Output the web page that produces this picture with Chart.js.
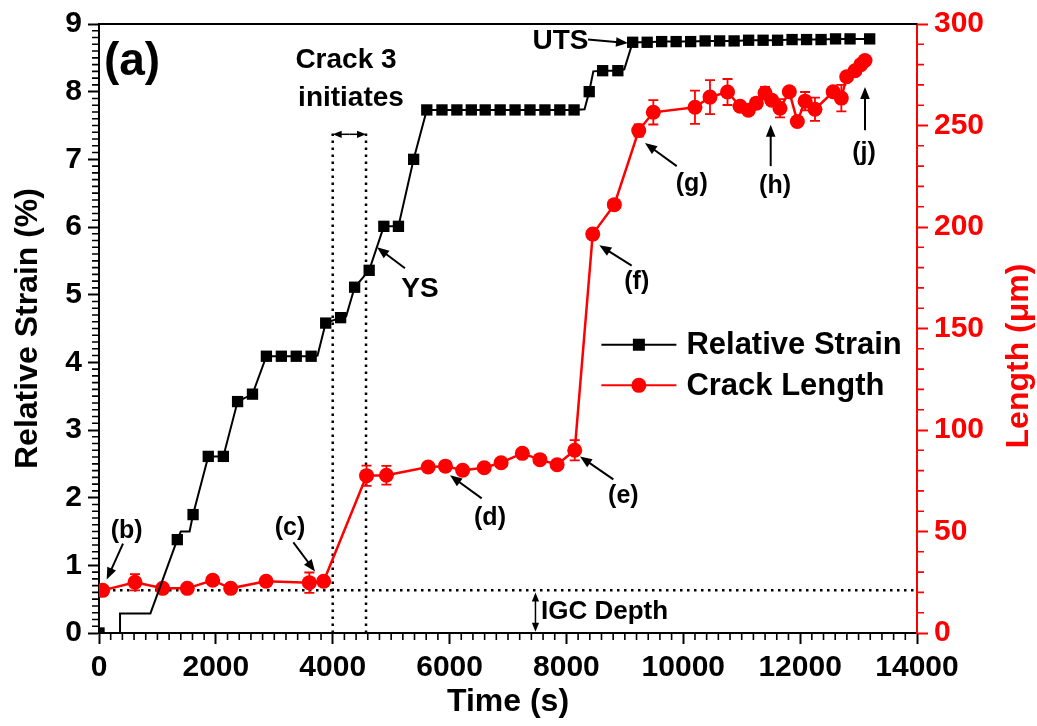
<!DOCTYPE html>
<html>
<head>
<meta charset="utf-8">
<script src="https://cdn.jsdelivr.net/npm/chart.js@4.4.1/dist/chart.umd.min.js"></script>
<style>
  html, body { margin: 0; padding: 0; background: #fff; }
  #wrap { width: 1037px; height: 726px; position: relative; }
</style>
</head>
<body>
<div id="wrap"><canvas id="grafico"></canvas></div>
<script>
// Relative strain (black squares); marker 1 = square drawn, 0 = line vertex only
const strainTime = [0, 360, 360, 880, 1340, 1400, 1550, 1610, 1870, 2128, 2372, 2627, 2865, 3121, 3376, 3631, 3740, 3880, 4135, 4230, 4375, 4624, 4875, 5125, 5385, 5610, 5870, 6125, 6372, 6610, 6866, 7121, 7376, 7632, 7887, 8131, 8310, 8390, 8460, 8620, 8880, 8990, 9134, 9382, 9630, 9878, 10126, 10374, 10622, 10870, 11118, 11366, 11614, 11862, 12110, 12358, 12606, 12854, 13190];
const strainValue = [0, 0, 0.29, 0.29, 1.38, 1.5, 1.5, 1.75, 2.61, 2.61, 3.42, 3.53, 4.09, 4.09, 4.09, 4.09, 4.1, 4.58, 4.66, 4.68, 5.11, 5.36, 6.01, 6.01, 7.0, 7.73, 7.73, 7.73, 7.73, 7.73, 7.73, 7.73, 7.73, 7.73, 7.73, 7.73, 7.74, 8.0, 8.3, 8.31, 8.31, 8.33, 8.73, 8.73, 8.74, 8.74, 8.74, 8.75, 8.75, 8.75, 8.76, 8.76, 8.76, 8.77, 8.77, 8.77, 8.78, 8.78, 8.78];
const strainMarker = [1, 0, 0, 0, 1, 0, 0, 1, 1, 1, 1, 1, 1, 1, 1, 1, 0, 1, 1, 0, 1, 1, 1, 1, 1, 1, 1, 1, 1, 1, 1, 1, 1, 1, 1, 1, 0, 1, 0, 1, 1, 0, 1, 1, 1, 1, 1, 1, 1, 1, 1, 1, 1, 1, 1, 1, 1, 1, 1];

// Crack length (red circles) with error bars (± µm)
const crackTime = [63, 616, 1090, 1511, 1946, 2254, 2860, 3600, 3845, 4579, 4919, 5634, 5929, 6224, 6593, 6882, 7245, 7546, 7841, 8142, 8450, 8820, 9237, 9487, 10200, 10457, 10757, 10971, 11114, 11250, 11399, 11513, 11655, 11815, 11952, 12085, 12254, 12565, 12705, 12797, 12939, 13040, 13110];
const crackLength = [21, 25, 22, 22, 26, 22, 25.5, 24.8, 25.5, 77.5, 77.7, 81.8, 82.2, 80.2, 81.4, 83.9, 88.5, 85.4, 82.9, 90, 196.5, 211, 247.5, 256.5, 259, 264, 266.5, 259.5, 257.5, 261, 266, 262.5, 258.5, 266.6, 252, 262, 258, 266.6, 263.5, 274, 277, 280, 282];
const crackError = [0, 4, 0, 1.5, 1.5, 1.5, 1, 5, 2, 5, 4.6, 1, 1, 1.5, 1, 1, 1, 1, 1, 5, 1, 1, 3, 6, 8.2, 8.4, 6.4, 1, 1.5, 2.5, 3, 2, 4.5, 1, 1, 4.5, 5.7, 2, 6.5, 2, 1.5, 1, 1];

const xTickStep = 2000;
const strainTickStep = 1;
const lengthTickStep = 50;
const igcDepth = 21;          // µm, dotted horizontal line
const crackWindow = [4000, 4570];

const FONT = '"Liberation Sans", Arial, sans-serif';

const strainPts = strainTime.map((t, i) => ({ x: t, y: strainValue[i] }));
const crackPts = crackTime.map((t, i) => ({ x: t, y: crackLength[i] }));

function flecha(ctx, x1, y1, x2, y2, head) {
  head = head || 12;
  const ang = Math.atan2(y2 - y1, x2 - x1);
  ctx.beginPath();
  ctx.moveTo(x1, y1);
  ctx.lineTo(x2 - Math.cos(ang) * head * 0.8, y2 - Math.sin(ang) * head * 0.8);
  ctx.stroke();
  ctx.beginPath();
  ctx.moveTo(x2, y2);
  ctx.lineTo(x2 - head * Math.cos(ang) + head * 0.4 * Math.sin(ang), y2 - head * Math.sin(ang) - head * 0.4 * Math.cos(ang));
  ctx.lineTo(x2 - head * Math.cos(ang) - head * 0.4 * Math.sin(ang), y2 - head * Math.sin(ang) + head * 0.4 * Math.cos(ang));
  ctx.closePath();
  ctx.fill();
}

function flechaDoble(ctx, x1, y1, x2, y2, head) {
  const mx = (x1 + x2) / 2, my = (y1 + y2) / 2;
  flecha(ctx, mx, my, x1, y1, head);
  flecha(ctx, mx, my, x2, y2, head);
}

// Error bars, dotted guide lines (under the datasets)
const fondo = {
  id: 'fondo',
  beforeDatasetsDraw(chart) {
    const { ctx, scales } = chart;
    const X = scales.x, Y = scales.y, L = scales.y1;
    ctx.save();
    // dotted IGC depth line
    ctx.strokeStyle = '#000';
    ctx.lineWidth = 2.5;
    ctx.setLineDash([2.5, 4.5]);
    ctx.beginPath();
    ctx.moveTo(X.getPixelForValue(0), L.getPixelForValue(igcDepth));
    ctx.lineTo(X.getPixelForValue(13950), L.getPixelForValue(igcDepth));
    ctx.stroke();
    // dotted verticals for crack initiation window
    crackWindow.forEach(t => {
      ctx.beginPath();
      ctx.moveTo(X.getPixelForValue(t), Y.getPixelForValue(0));
      ctx.lineTo(X.getPixelForValue(t), Y.getPixelForValue(7.42));
      ctx.stroke();
    });
    ctx.setLineDash([]);
    // error bars
    ctx.strokeStyle = '#ff0000';
    ctx.lineWidth = 1.8;
    crackTime.forEach((t, i) => {
      const e = crackError[i];
      if (!e) return;
      const px = X.getPixelForValue(t);
      const top = L.getPixelForValue(crackLength[i] + e);
      const bot = L.getPixelForValue(crackLength[i] - e);
      ctx.beginPath();
      ctx.moveTo(px, top); ctx.lineTo(px, bot);
      ctx.moveTo(px - 5, top); ctx.lineTo(px + 5, top);
      ctx.moveTo(px - 5, bot); ctx.lineTo(px + 5, bot);
      ctx.stroke();
    });
    ctx.restore();
  }
};

// Annotations, minor ticks, frame, legend, right title
const decor = {
  id: 'decor',
  afterDraw(chart) {
    const { ctx, scales, chartArea: a } = chart;
    const X = scales.x, Y = scales.y, L = scales.y1;
    const px = t => X.getPixelForValue(t);
    const py = s => Y.getPixelForValue(s);
    ctx.save();

    // top frame
    ctx.strokeStyle = '#000';
    ctx.lineWidth = 2;
    ctx.beginPath();
    ctx.moveTo(a.left, a.top); ctx.lineTo(a.right, a.top);
    ctx.stroke();

    // minor ticks
    ctx.lineWidth = 1.6;
    ctx.beginPath();
    for (let v = 0; v <= 14000; v += 200) {
      if (v % 2000 === 0) continue;
      ctx.moveTo(px(v), a.bottom); ctx.lineTo(px(v), a.bottom + 7);
    }
    for (let k = 0; k <= 90; k++) {
      if (k % 10 === 0) continue;
      const y = py(k / 10);
      ctx.moveTo(a.left, y); ctx.lineTo(a.left - 7, y);
    }
    ctx.stroke();
    ctx.strokeStyle = '#ff0000';
    ctx.beginPath();
    for (let v = 0; v <= 300; v += 10) {
      if (v % 50 === 0) continue;
      const y = L.getPixelForValue(v);
      ctx.moveTo(a.right, y); ctx.lineTo(a.right + 7, y);
    }
    ctx.stroke();

    // texts
    ctx.fillStyle = '#000';
    ctx.strokeStyle = '#000';
    ctx.textAlign = 'center';
    ctx.textBaseline = 'middle';
    const txt = (s, t, v, size) => {
      ctx.font = 'bold ' + size + 'px ' + FONT;
      ctx.fillText(s, px(t), py(v));
    };
    txt('(a)', 565, 8.44, 46);
    txt('Crack 3', 4227, 8.46, 28);
    txt('initiates', 4313, 7.9, 28);
    txt('YS', 5494, 5.08, 28);
    txt('UTS', 7898, 8.74, 28);
    txt('(b)', 473, 1.51, 25);
    txt('(c)', 3269, 1.55, 25);
    txt('(d)', 6692, 1.70, 25);
    txt('(e)', 8974, 2.02, 25);
    txt('(f)', 9203, 5.18, 25);
    txt('(g)', 10145, 6.63, 25);
    txt('(h)', 11570, 6.61, 25);
    txt('(j)', 13093, 7.09, 25);
    ctx.textAlign = 'left';
    ctx.font = 'bold 26px ' + FONT;
    ctx.fillText('IGC Depth', px(7565), py(0.31));

    // arrows
    ctx.lineWidth = 2;
    const arr = (t1, s1, t2, s2) => flecha(ctx, px(t1), py(s1), px(t2), py(s2), 12);
    arr(5237, 5.39, 4758, 5.70);      // YS
    arr(8369, 8.77, 9054, 8.72);      // UTS
    arr(411, 1.32, 132, 0.79);        // b
    arr(3326, 1.34, 3697, 0.91);      // c
    arr(6550, 1.99, 6008, 2.33);      // d
    arr(8803, 2.27, 8232, 2.61);      // e
    arr(9117, 5.43, 8563, 5.73);      // f
    arr(9888, 6.90, 9345, 7.24);      // g
    arr(11496, 6.90, 11496, 7.51);    // h
    arr(13110, 7.43, 13110, 8.07);    // j
    ctx.lineWidth = 1.5;
    flechaDoble(ctx, px(crackWindow[0]), py(7.37), px(crackWindow[1]), py(7.37), 9);
    flechaDoble(ctx, px(7470), py(0.6), px(7470), py(0.02), 9);

    // legend
    const legend = [
      { label: 'Relative Strain', color: '#000', style: 'rect', s: 4.26 },
      { label: 'Crack Length', color: '#ff0000', style: 'circle', s: 3.66 }
    ];
    legend.forEach(it => {
      const y = py(it.s);
      const x1 = px(8598), x2 = px(9882), xm = (x1 + x2) / 2;
      ctx.strokeStyle = it.color;
      ctx.fillStyle = it.color;
      ctx.lineWidth = 2;
      ctx.beginPath(); ctx.moveTo(x1, y); ctx.lineTo(x2, y); ctx.stroke();
      if (it.style === 'rect') {
        ctx.fillRect(xm - 6, y - 6, 12, 12);
      } else {
        ctx.beginPath(); ctx.arc(xm, y, 7.5, 0, Math.PI * 2); ctx.fill();
      }
      ctx.fillStyle = '#000';
      ctx.font = 'bold 31px ' + FONT;
      ctx.textAlign = 'left';
      ctx.fillText(it.label, x2 + 10, y + 1);
    });

    // right axis title (reads bottom to top)
    ctx.save();
    ctx.translate(1019, 356);
    ctx.rotate(-Math.PI / 2);
    ctx.fillStyle = '#ff0000';
    ctx.font = 'bold 32px ' + FONT;
    ctx.textAlign = 'center';
    ctx.fillText('Length (\u03bcm)', 0, 0);
    ctx.restore();

    ctx.restore();
  }
};

new Chart(document.getElementById('grafico'), {
  type: 'line',
  data: {
    datasets: [
      {
        label: 'Relative Strain',
        data: strainPts,
        yAxisID: 'y',
        borderColor: '#000',
        backgroundColor: '#000',
        borderWidth: 2,
        pointStyle: 'rect',
        pointRadius: strainMarker.map(m => m ? 8 : 0),
        pointBorderWidth: 0,
        tension: 0
      },
      {
        label: 'Crack Length',
        data: crackPts,
        yAxisID: 'y1',
        borderColor: '#ff0000',
        backgroundColor: '#ff0000',
        borderWidth: 2.5,
        pointStyle: 'circle',
        pointRadius: 7.5,
        pointBorderWidth: 0,
        tension: 0
      }
    ]
  },
  options: {
    responsive: true,
    maintainAspectRatio: false,
    animation: false,
    layout: { padding: { top: 20, left: 0, right: 0, bottom: 0 } },
    plugins: { legend: { display: false }, tooltip: { enabled: false } },
    scales: {
      x: {
        type: 'linear',
        min: 0, max: 14000,
        ticks: { stepSize: xTickStep, color: '#000', font: { family: FONT, size: 30, weight: 'bold' }, padding: 6, maxRotation: 0, callback: v => String(v) },
        grid: { drawOnChartArea: false, drawTicks: true, tickLength: 11, tickWidth: 2, tickColor: '#000' },
        border: { color: '#000', width: 2 },
        title: { display: true, text: 'Time (s)', color: '#000', font: { family: FONT, size: 32, weight: 'bold' }, padding: { top: 0, bottom: 5 } },
        afterFit(scale) { scale.height = 93; }
      },
      y: {
        position: 'left',
        min: 0, max: 9,
        ticks: { stepSize: strainTickStep, color: '#000', font: { family: FONT, size: 30, weight: 'bold' }, padding: 6, callback: v => String(v) },
        grid: { drawOnChartArea: false, drawTicks: true, tickLength: 11, tickWidth: 2, tickColor: '#000' },
        border: { color: '#000', width: 2 },
        title: { display: true, text: 'Relative Strain (%)', color: '#000', font: { family: FONT, size: 32, weight: 'bold' }, padding: { top: 9, bottom: 0 } },
        afterFit(scale) { scale.width = 99; }
      },
      y1: {
        position: 'right',
        min: 0, max: 300,
        ticks: { stepSize: lengthTickStep, color: '#ff0000', font: { family: FONT, size: 30, weight: 'bold' }, padding: 6, callback: v => String(v) },
        grid: { drawOnChartArea: false, drawTicks: true, tickLength: 11, tickWidth: 2, tickColor: '#ff0000' },
        border: { color: '#ff0000', width: 2 },
        afterFit(scale) { scale.width = 120; }
      }
    }
  },
  plugins: [fondo, decor]
});
</script>
</body>
</html>
